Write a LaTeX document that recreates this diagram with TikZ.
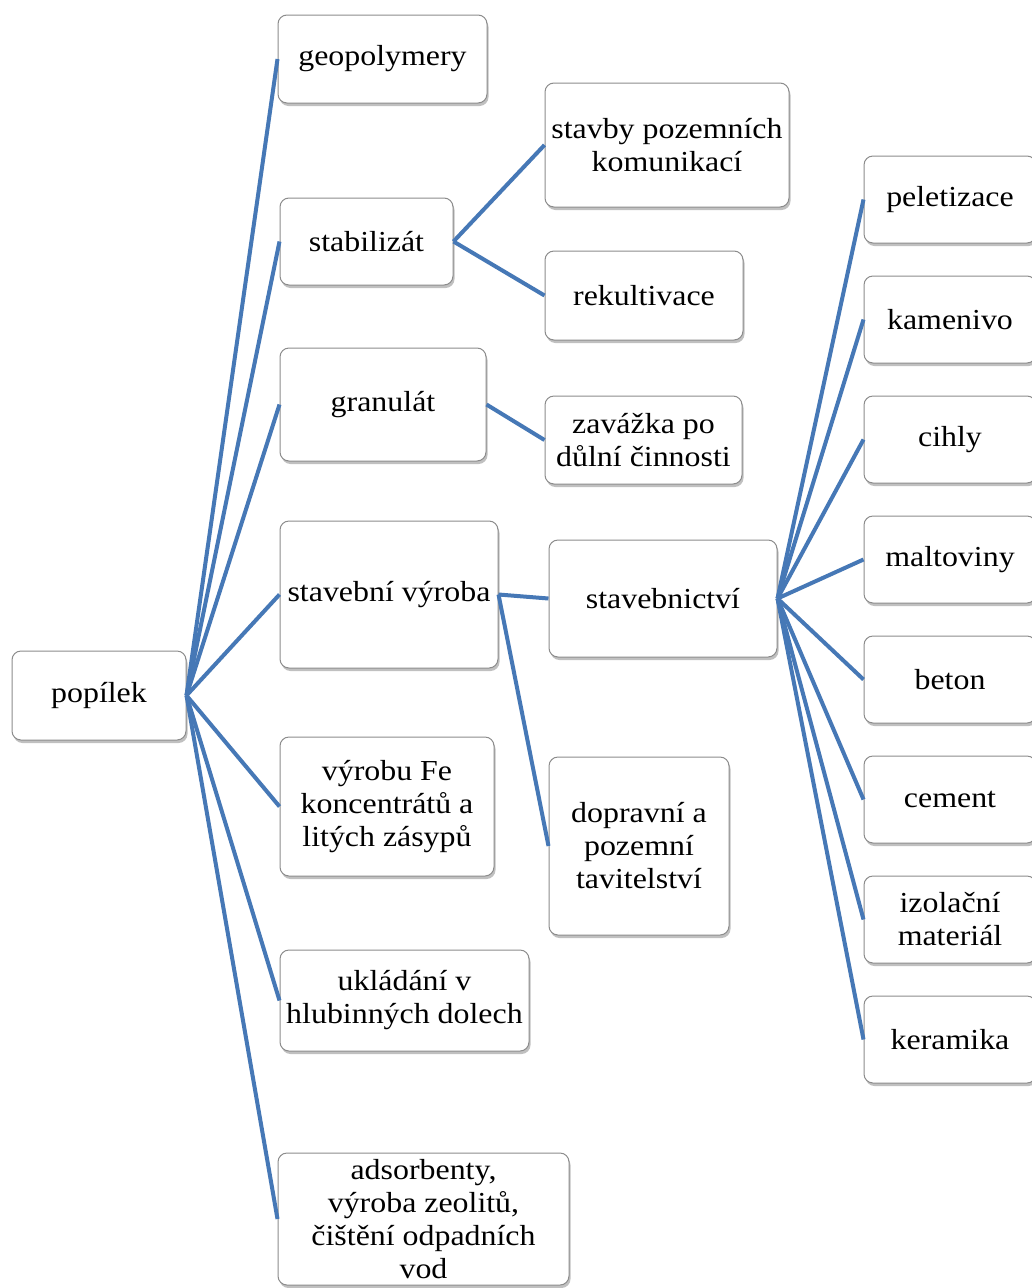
\documentclass[tikz,border=0pt]{standalone}
\usepackage{fontspec}
\setmainfont{Liberation Serif}[FakeStretch=1.1]
\usetikzlibrary{shadows}
\definecolor{linkblue}{RGB}{70,120,182}
\tikzset{
  box/.style={draw=black!45, line width=1pt, fill=white, rounded corners=9pt,
    align=center, inner sep=0pt,
    drop shadow={shadow xshift=1.5pt, shadow yshift=-3pt, fill=black!35, opacity=0.7},
    font=\fontsize{29}{33}\selectfont},
  link/.style={draw=linkblue, line width=4pt}
}
\begin{document}
\begin{tikzpicture}[x=1pt,y=-1pt]
\clip (0,0) rectangle (1032,1288);
\fill[white] (0,0) rectangle (1032,1288);
\node[box, minimum width=174pt, minimum height=89pt] (pop) at (99,695.5) {popílek};
\node[box, minimum width=209pt, minimum height=88pt] (geo) at (382.5,59) {geopolymery};
\node[box, minimum width=173pt, minimum height=87pt] (stab) at (366.5,241.5) {stabilizát};
\node[box, minimum width=206pt, minimum height=113pt] (gran) at (383,404.5) {granulát};
\node[box, minimum width=218pt, minimum height=147pt] (sv) at (389,594.5) {stavební výroba};
\node[box, minimum width=214pt, minimum height=139pt] (fe) at (387,806.5) {výrobu Fe\\koncentrátů a\\litých zásypů};
\node[box, minimum width=249pt, minimum height=101pt] (ukl) at (404.5,1000.5) {ukládání v\\hlubinných dolech};
\node[box, minimum width=291pt, minimum height=132pt] (ads) at (423.5,1219) {adsorbenty,\\výroba zeolitů,\\čištění odpadních\\vod};
\node[box, minimum width=244pt, minimum height=124pt] (stavby) at (667,145) {stavby pozemních\\komunikací};
\node[box, minimum width=198pt, minimum height=89pt] (rek) at (644,295.5) {rekultivace};
\node[box, minimum width=197pt, minimum height=88pt] (zav) at (643.5,440) {zavážka po\\důlní činnosti};
\node[box, minimum width=228pt, minimum height=117pt] (stvb) at (663,598.5) {stavebnictví};
\node[box, minimum width=180pt, minimum height=178pt] (dop) at (639,846) {dopravní a\\pozemní\\tavitelství};
\node[box, minimum width=172pt, minimum height=87pt] (pel) at (950,199.5) {peletizace};
\node[box, minimum width=172pt, minimum height=87pt] (kam) at (950,319.5) {kamenivo};
\node[box, minimum width=172pt, minimum height=87pt] (cih) at (950,439.5) {cihly};
\node[box, minimum width=172pt, minimum height=87pt] (mal) at (950,559.5) {maltoviny};
\node[box, minimum width=172pt, minimum height=87pt] (bet) at (950,679.5) {beton};
\node[box, minimum width=172pt, minimum height=87pt] (cem) at (950,799.5) {cement};
\node[box, minimum width=172pt, minimum height=87pt] (izo) at (950,919.5) {izolační\\materiál};
\node[box, minimum width=172pt, minimum height=87pt] (ker) at (950,1039.5) {keramika};
\foreach \t in {geo,stab,gran,sv,fe,ukl,ads}
  \draw[link] (pop.east) -- (\t.west);
\foreach \t in {stavby,rek}
  \draw[link] (stab.east) -- (\t.west);
\draw[link] (gran.east) -- (zav.west);
\foreach \t in {stvb,dop}
  \draw[link] (sv.east) -- (\t.west);
\foreach \t in {pel,kam,cih,mal,bet,cem,izo,ker}
  \draw[link] (stvb.east) -- (\t.west);
\end{tikzpicture}
\end{document}
